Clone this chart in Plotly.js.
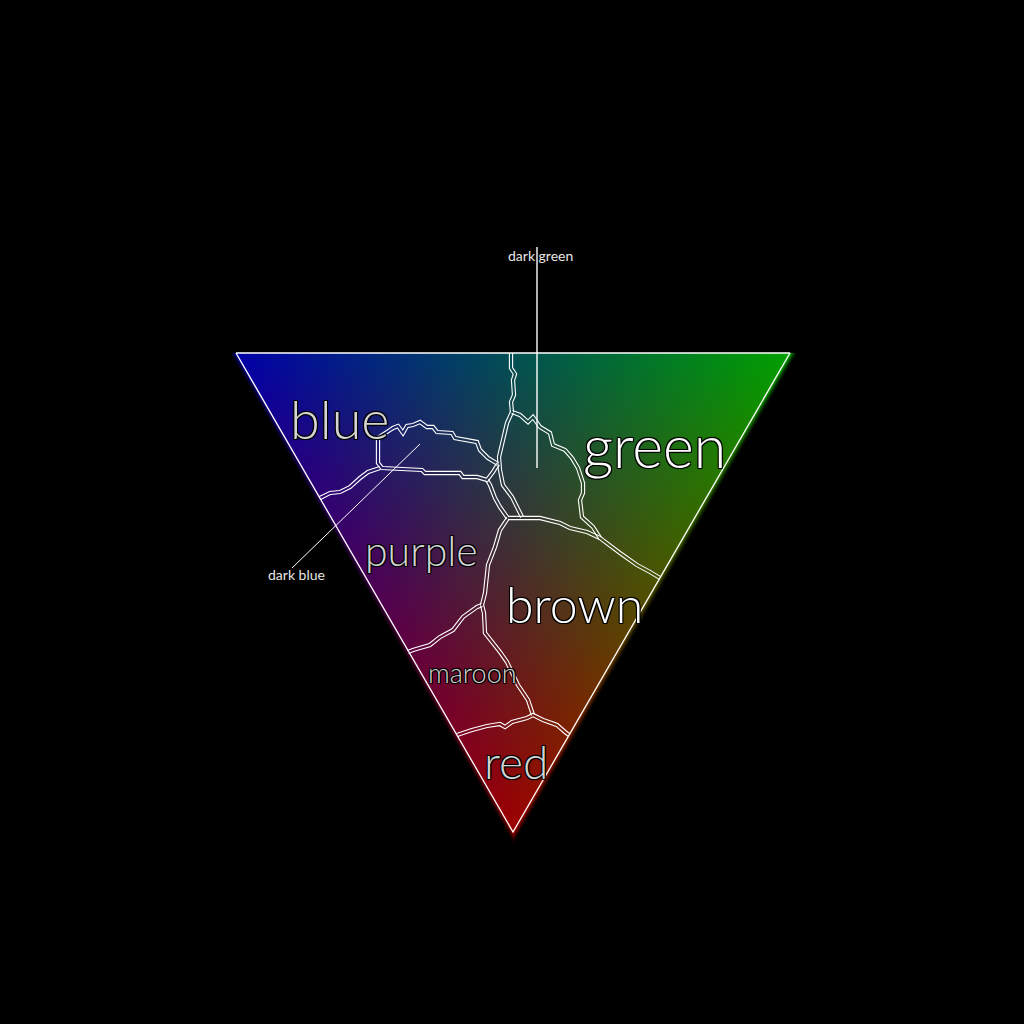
<!DOCTYPE html>
<html>
<head>
<meta charset="utf-8">
<script src="https://cdn.plot.ly/plotly-3.0.1.min.js"></script>
<style>html,body{margin:0;padding:0;background:#000;}#chart{width:1024px;height:1024px;}</style>
</head>
<body>
<div id="chart"></div>
<script>
// ---- Colour triangle corners (x, y in triangle units; red at origin) ----
const cornerNames = ['blue', 'green', 'red'];
const cornerX = [-277, 277, 0];
const cornerY = [479, 479, 0];
const cornerRGB = [[0, 0, 168], [0, 160, 0], [158, 0, 0]];

// ---- Region boundaries ----
const blueGreenX = [-2, -2, 2, 0, 1, -2, -1];
const blueGreenY = [479, 464, 458, 452, 437, 430, 420];

const darkBlueDarkGreenX = [-1, -6, -10, -14, -13, -10, -1, 4, 9];
const darkBlueDarkGreenY = [420, 409, 392, 375, 362, 347, 335, 325, 315];

const darkGreenGreenX = [-1, 7, 15, 20, 27, 37, 40, 52, 59, 65, 70, 70, 67, 69, 80, 87];
const darkGreenGreenY = [420, 417, 410, 415, 405, 399, 387, 382, 374, 364, 349, 339, 332, 315, 305, 294];

const brownGreenX = [-5, 27, 47, 57, 74, 87, 107, 124, 137, 147];
const brownGreenY = [314, 314, 309, 304, 300, 294, 279, 267, 260, 254];

const darkBlueTopX = [-123, -120, -115, -110, -106, -100, -93, -86, -80, -76, -61, -58, -36, -33, -25, -15];
const darkBlueTopY = [402, 404, 406, 399, 406, 407, 410, 405, 405, 400, 399, 394, 390, 382, 374, 368];

const darkBlueBottomX = [-123, -135, -135, -131, -91, -88, -53, -50, -36, -26, -20, -15];
const darkBlueBottomY = [402, 394, 369, 364, 362, 359, 359, 355, 355, 352, 360, 368];

const bluePurpleX = [-193, -183, -173, -163, -153, -145, -133];
const bluePurpleY = [334, 339, 340, 345, 354, 360, 364];

const purpleDarkGreenX = [-26, -23, -18, -13, -6, -5];
const purpleDarkGreenY = [352, 347, 334, 325, 315, 314];

const purpleBrownX = [-5, -13, -18, -25, -28, -31];
const purpleBrownY = [314, 302, 285, 267, 239, 227];

const purpleMaroonX = [-31, -36, -50, -60, -73, -83, -100, -105];
const purpleMaroonY = [227, 225, 215, 202, 195, 187, 182, 180];

const maroonBrownX = [-31, -29, -28, -20, -13, -6, 5, 15, 20];
const maroonBrownY = [227, 219, 199, 189, 180, 170, 147, 132, 117];

const redTopX = [-56, -41, -26, -13, -8, -1, 14, 20, 30, 44, 52, 56];
const redTopY = [97, 102, 106, 108, 105, 110, 114, 117, 112, 107, 100, 97];

// ---- Labels ----
const labelText = ['blue', 'green', 'purple', 'brown', 'maroon', 'red'];
const labelX = [-173, 141, -92, 61, -41, 3];
const labelY = [414, 387, 282, 228, 160, 71];
const labelSize = [54, 59, 41, 50, 27, 46];

const smallLabelText = ['dark green', 'dark blue'];
const smallLabelX = [27, -217];
const smallLabelY = [577, 258];
const leaderX = [[24, 24], [-93, -221]];
const leaderY = [[585, 364], [388, 264]];

// ---- Build colour field (RGB mix of the three corners) ----
const X0 = -300, X1 = 300, Y0 = -20, Y1 = 500;
const side = 553.3;
function colourAt(x, y) {
  let wg = (y / 479 + x / 277) / 2;
  let wb = (y / 479 - x / 277) / 2;
  let wr = 1 - y / 479;
  wg = Math.max(0, wg); wb = Math.max(0, wb); wr = Math.max(0, wr);
  const s = wg + wb + wr || 1;
  wg /= s; wb /= s; wr /= s;
  const w = [wb, wg, wr];
  const c = [0, 0, 0];
  for (let k = 0; k < 3; k++) for (let j = 0; j < 3; j++) c[j] += w[k] * cornerRGB[k][j];
  return c;
}
const field = [];
for (let y = Y0; y <= Y1; y++) {
  const row = [];
  for (let x = X0; x <= X1; x++) {
    const dl = -(479 * x + 277 * y) / side;
    const dr = (479 * x - 277 * y) / side;
    const dt = y - 479;
    const out = Math.max(dl, dr);
    const c = colourAt(x, y);
    let a;
    if (dt > 0.5) a = 0;
    else if (out <= 0.5) a = 1;
    else if (out < 6) a = 0.75 * Math.pow(1 - out / 6, 1.5);
    else a = 0;
    if (a > 0 && out > 0.5) { c[0] = Math.min(255, c[0] * 1.4); c[1] = Math.min(255, c[1] * 1.4); c[2] = Math.min(255, c[2] * 1.4); }
    row.push([Math.round(c[0]), Math.round(c[1]), Math.round(c[2]), a]);
  }
  field.push(row);
}

// ---- Double-line offset for boundaries ----
function offsetLine(xs, ys, d) {
  const n = xs.length, ox = [], oy = [];
  for (let i = 0; i < n; i++) {
    let nx = 0, ny = 0;
    const segs = [];
    if (i > 0) segs.push([xs[i] - xs[i - 1], ys[i] - ys[i - 1]]);
    if (i < n - 1) segs.push([xs[i + 1] - xs[i], ys[i + 1] - ys[i]]);
    const norms = segs.map(s => { const L = Math.hypot(s[0], s[1]) || 1; return [-s[1] / L, s[0] / L]; });
    norms.forEach(v => { nx += v[0]; ny += v[1]; });
    let L = Math.hypot(nx, ny);
    if (L < 1e-6) { nx = norms[0][0]; ny = norms[0][1]; L = 1; }
    nx /= L; ny /= L;
    const cosA = Math.max(0.5, nx * norms[0][0] + ny * norms[0][1]);
    ox.push(xs[i] + nx * d / cosA);
    oy.push(ys[i] + ny * d / cosA);
  }
  return [ox, oy];
}

const boundaries = [
  [blueGreenX, blueGreenY], [darkBlueDarkGreenX, darkBlueDarkGreenY], [darkGreenGreenX, darkGreenGreenY],
  [brownGreenX, brownGreenY], [darkBlueTopX, darkBlueTopY], [darkBlueBottomX, darkBlueBottomY],
  [bluePurpleX, bluePurpleY], [purpleDarkGreenX, purpleDarkGreenY], [purpleBrownX, purpleBrownY],
  [purpleMaroonX, purpleMaroonY], [maroonBrownX, maroonBrownY], [redTopX, redTopY]
];

const traces = [];
traces.push({
  type: 'image', z: field, colormodel: 'rgba',
  x0: X0, dx: 1, y0: Y0, dy: 1, hoverinfo: 'skip'
});

boundaries.forEach(b => {
  [-1.6, 1.6].forEach(d => {
    const o = offsetLine(b[0], b[1], d);
    traces.push({ type: 'scatter', mode: 'lines', x: o[0], y: o[1],
      line: { color: '#ffffff', width: 1.1 }, hoverinfo: 'skip', showlegend: false });
  });
});

traces.push({ type: 'scatter', mode: 'lines',
  x: cornerX.concat([cornerX[0]]), y: cornerY.concat([cornerY[0]]),
  line: { color: '#ffffff', width: 1.3 }, hoverinfo: 'skip', showlegend: false });

leaderX.forEach((lx, i) => {
  traces.push({ type: 'scatter', mode: 'lines', x: lx, y: leaderY[i],
    line: { color: '#ffffff', width: i === 0 ? 1.4 : 1 }, hoverinfo: 'skip', showlegend: false });
});

const darkOutline = '-1px -1px 0 #000, 1px -1px 0 #000, -1px 1px 0 #000, 1px 1px 0 #000, 0 0 2px #000';
const annotations = [];
labelText.forEach((t, i) => {
  const bright = (t === 'green' || t === 'brown');
  annotations.push({
    x: labelX[i], y: labelY[i], xref: 'x', yref: 'y', text: t, showarrow: false,
    xanchor: 'center', yanchor: 'middle',
    font: { family: 'Lato, "Open Sans", sans-serif', size: labelSize[i], weight: 300,
      color: bright ? '#ffffff' : '#d4d4d4', shadow: darkOutline }
  });
});
smallLabelText.forEach((t, i) => {
  annotations.push({
    x: smallLabelX[i], y: smallLabelY[i], xref: 'x', yref: 'y', text: t, showarrow: false,
    xanchor: 'center', yanchor: 'middle',
    font: { family: 'Lato, "Open Sans", sans-serif', size: 14, color: '#e6e6e6' }
  });
});

const layout = {
  width: 1024, height: 1024,
  margin: { l: 0, r: 0, t: 0, b: 0 },
  paper_bgcolor: '#000000', plot_bgcolor: '#000000',
  xaxis: { range: [-513, 511], visible: false, showgrid: false, zeroline: false, fixedrange: true },
  yaxis: { range: [-192, 832], visible: false, showgrid: false, zeroline: false, fixedrange: true, autorange: false },
  showlegend: false,
  annotations: annotations
};

Plotly.newPlot('chart', traces, layout, { staticPlot: true, displayModeBar: false });
</script>
</body>
</html>
